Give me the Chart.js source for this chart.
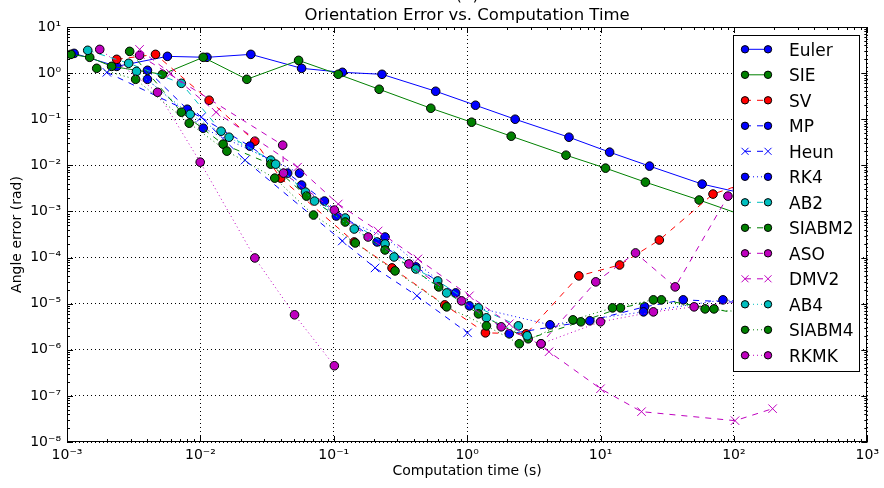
<!DOCTYPE html>
<html>
<head>
<meta charset="utf-8">
<script src="https://cdn.jsdelivr.net/npm/chart.js@4.4.1/dist/chart.umd.min.js"></script>
<style>
  html, body { margin: 0; padding: 0; background: #fff; }
  canvas { display: block; }
</style>
</head>
<body>
<canvas id="errChart" width="884" height="488"></canvas>
<script>
// computation time (s) / angle error (rad) for each integrator
const eulerT    = [1.13e-3, 2.36e-3, 5.66e-3, 0.0112, 0.0239, 0.0574, 0.116, 0.230, 0.581, 1.155, 2.29, 5.80, 11.7, 23.3, 57.8, 115];
const eulerErr  = [2.68, 1.40, 2.31, 2.20, 2.55, 1.27, 1.04, 0.942, 0.404, 0.201, 0.100, 0.0407, 0.0193, 0.00962, 0.00392, 0.0025];

const sieT      = [1.07e-3, 1.48e-3, 2.16e-3, 5.19e-3, 0.0105, 0.0223, 0.0545, 0.108, 0.219, 0.534, 1.08, 2.14, 5.51, 10.9, 21.7, 54.9, 112];
const sieErr    = [2.55, 2.20, 1.40, 0.942, 2.20, 0.734, 1.89, 0.942, 0.446, 0.173, 0.0861, 0.0428, 0.0166, 0.00869, 0.00432, 0.00177, 8.6e-4];

const svT       = [2.36e-3, 4.61e-3, 0.01163, 0.0256, 0.040, 0.1424, 0.2734, 0.679, 1.371, 2.77, 6.88, 13.9, 27.6, 69.7, 158];
const svErr     = [1.99, 2.55, 0.258, 0.0334, 5.28e-3, 2.18e-4, 5.96e-5, 9.4e-6, 2.33e-6, 2.22e-6, 4.0e-5, 6.9e-5, 2.4e-4, 2.38e-3, 5.3e-3];

const mpT       = [4.01e-3, 7.97e-3, 0.0235, 0.0451, 0.0851, 0.2113, 0.4125, 0.82, 2.07, 8.31, 21.4, 41.7, 126];
const mpErr     = [1.15, 0.1646, 0.0261, 6.78e-3, 1.68e-3, 2.18e-4, 6.27e-5, 1.71e-5, 2.22e-6, 4.25e-6, 8.53e-6, 1.21e-5, 1.05e-5];

const heunT     = [1.99e-3, 0.01014, 0.0216, 0.1159, 0.204, 0.42, 1.007];
const heunErr   = [1.04, 0.1105, 0.01296, 2.29e-4, 5.96e-5, 1.48e-5, 2.33e-6];

const rk4T      = [4.01e-3, 0.0105, 0.0554, 0.0574, 0.1046, 0.2424, 1.04, 4.18, 21.0, 82.8, 130];
const rk4Err    = [0.734, 0.0638, 6.78e-3, 3.73e-3, 7.95e-4, 2.79e-4, 8.96e-6, 3.48e-6, 6.64e-6, 1.21e-5, 1.1e-5];

const ab2T      = [1.43e-3, 2.9e-3, 7.2e-3, 0.0143, 0.0337, 0.0614, 0.122, 0.2424, 0.4125, 0.602, 1.216, 2.42];
const ab2Err    = [3.12, 1.63, 0.601, 0.055, 0.01296, 2.63e-3, 7.2e-4, 1.97e-4, 5.66e-5, 3.11e-5, 8.11e-6, 3.3e-6];

const siabm2T   = [2.95e-3, 7.2e-3, 0.0148, 0.0337, 0.0625, 0.122, 0.2424, 0.612, 1.216, 2.87, 7.12, 14.1, 28.6, 70.9, 126];
const siabm2Err = [2.96, 0.1418, 0.0288, 0.0106, 2.15e-3, 5.9e-4, 1.46e-4, 2.31e-5, 6.01e-6, 1.73e-6, 4.04e-6, 8.11e-6, 1.21e-5, 7.7e-6, 5.6e-6];

const asoT      = [3.5e-3, 0.0414, 0.042, 0.101, 0.181, 0.366, 0.908, 1.80, 3.58, 9.21, 18.3, 36.3, 90.2, 110];
const asoErr    = [2.43, 0.0274, 6.78e-3, 1.07e-3, 2.79e-4, 7.28e-5, 1.15e-5, 3.15e-6, 1.35e-6, 2.97e-5, 1.26e-4, 2.31e-5, 2.15e-3, 5.0e-3];

const dmv2T     = [3.5e-3, 5.96e-3, 0.01312, 0.0535, 0.108, 0.215, 0.427, 1.04, 2.07, 4.11, 10.0, 20.3, 102, 195];
const dmv2Err   = [3.27, 0.99, 0.1418, 9.14e-3, 1.45e-3, 3.77e-4, 9.33e-5, 1.48e-5, 3.66e-6, 9.06e-7, 1.43e-7, 4.55e-8, 2.9e-8, 5.28e-8];

const ab4T      = [3.32e-3, 8.39e-3, 0.0164, 0.0367, 0.0717, 0.1424, 0.283, 0.702, 1.395, 2.82];
const ab4Err    = [1.09, 0.128, 0.0407, 0.0106, 1.68e-3, 4.16e-4, 1.03e-4, 1.71e-5, 4.93e-6, 2.01e-6];

const siabm4T   = [1.67e-3, 3.27e-3, 8.25e-3, 0.0158, 0.0361, 0.0705, 0.145, 0.288, 0.702, 1.395, 2.46, 6.21, 12.3, 24.9, 60.8, 126];
const siabm4Err = [1.27, 0.734, 0.0819, 0.0203, 5.28e-3, 8.36e-4, 2.07e-4, 5.13e-5, 8.53e-6, 3.3e-6, 1.35e-6, 4.46e-6, 8.11e-6, 1.21e-5, 7.7e-6, 6.5e-6];

const rkmkT     = [1.76e-3, 4.77e-3, 9.97e-3, 0.0256, 0.0508, 0.101];
const rkmkErr   = [3.27, 0.384, 0.01172, 9.8e-5, 5.73e-6, 4.5e-7];

// unlabelled magenta dotted run along the flat part (not in the legend)
const flatT     = [3.58, 10.0, 24.9, 50.3, 110];
const flatErr   = [1.35e-6, 4.04e-6, 6.64e-6, 8.53e-6, 1.1e-5];

const timeTicks = [1e-3, 1e-2, 1e-1, 1e0, 1e1, 1e2, 1e3];
const errTicks  = [1e-8, 1e-7, 1e-6, 1e-5, 1e-4, 1e-3, 1e-2, 1e-1, 1e0, 1e1];

const BLUE = '#0000ff', GREEN = '#008000', RED = '#ff0000', CYAN = '#00bfbf', MAGENTA = '#bf00bf';
const SOLID = [], DASHED = [6, 6], DOTTED = [1, 3];
const FONT = 'DejaVu Sans';

const series = [
  ['Euler',  eulerT,  eulerErr,  BLUE,    SOLID,  'circle'],
  ['SIE',    sieT,    sieErr,    GREEN,   SOLID,  'circle'],
  ['SV',     svT,     svErr,     RED,     DASHED, 'circle'],
  ['MP',     mpT,     mpErr,     BLUE,    DASHED, 'circle'],
  ['Heun',   heunT,   heunErr,   BLUE,    DASHED, 'crossRot'],
  ['RK4',    rk4T,    rk4Err,    BLUE,    DOTTED, 'circle'],
  ['AB2',    ab2T,    ab2Err,    CYAN,    DASHED, 'circle'],
  ['SIABM2', siabm2T, siabm2Err, GREEN,   DASHED, 'circle'],
  ['ASO',    asoT,    asoErr,    MAGENTA, DASHED, 'circle'],
  ['DMV2',   dmv2T,   dmv2Err,   MAGENTA, DASHED, 'crossRot'],
  ['AB4',    ab4T,    ab4Err,    CYAN,    DOTTED, 'circle'],
  ['SIABM4', siabm4T, siabm4Err, GREEN,   DOTTED, 'circle'],
  ['RKMK',   rkmkT,   rkmkErr,   MAGENTA, DOTTED, 'circle'],
  ['',       flatT,   flatErr,   MAGENTA, DOTTED, 'circle'],
];

const datasets = series.map(([label, t, err, color, dash, marker], i) => ({
  label: label,
  data: t.map((x, k) => ({ x: x, y: err[k] })),
  showLine: true,
  borderColor: color,
  borderWidth: 1,
  borderDash: dash,
  pointStyle: marker,
  pointRadius: marker === 'crossRot' ? 6 : 4.3,
  pointBorderWidth: 1,
  pointBorderColor: marker === 'crossRot' ? color : '#000',
  pointBackgroundColor: color,
  order: series.length - i   // later series on top, like the original
}));

const SUP = { '-': '⁻', '0': '⁰', '1': '¹', '2': '²', '3': '³', '4': '⁴', '5': '⁵', '6': '⁶', '7': '⁷', '8': '⁸', '9': '⁹' };
const powLabel = v => '10' + String(Math.round(Math.log10(v))).split('').map(c => SUP[c]).join('');

// box around the axes with inward major/minor ticks on all four sides
const frameTicks = {
  id: 'frameTicks',
  afterDatasetsDraw(chart) {
    const { ctx, chartArea: a, scales: { x, y } } = chart;
    ctx.save();
    ctx.strokeStyle = '#000';
    ctx.lineWidth = 1;
    ctx.setLineDash([]);
    ctx.beginPath();
    for (let e = -3; e <= 3; e++) {
      for (let m = 1; m < 10; m++) {
        const v = m * Math.pow(10, e);
        if (v > 1e3 * 1.0001) break;
        const px = Math.round(x.getPixelForValue(v)) + 0.5;
        const len = m === 1 ? 6 : 3;
        ctx.moveTo(px, a.bottom); ctx.lineTo(px, a.bottom - len);
        ctx.moveTo(px, a.top); ctx.lineTo(px, a.top + len);
      }
    }
    for (let e = -8; e <= 1; e++) {
      for (let m = 1; m < 10; m++) {
        const v = m * Math.pow(10, e);
        if (v > 10 * 1.0001) break;
        const py = Math.round(y.getPixelForValue(v)) + 0.5;
        const len = m === 1 ? 6 : 3;
        ctx.moveTo(a.left, py); ctx.lineTo(a.left + len, py);
        ctx.moveTo(a.right, py); ctx.lineTo(a.right - len, py);
      }
    }
    ctx.stroke();
    ctx.strokeRect(Math.round(a.left) + 0.5, Math.round(a.top) + 0.5, Math.round(a.width) - 1, Math.round(a.height) - 1);
    ctx.restore();
  }
};

const legendBox = {
  id: 'legendBox',
  afterDraw(chart) {
    const { ctx, chartArea: a } = chart;
    const items = chart.data.datasets.filter(d => d.label);
    const w = 126, rowH = 25.5;
    const h = items.length * rowH + 4.5;
    const left = Math.round(a.right - 8 - w), top = Math.round(a.top + 8);
    ctx.save();
    ctx.fillStyle = '#fff';
    ctx.fillRect(left, top, w, h);
    ctx.strokeStyle = '#000';
    ctx.lineWidth = 1;
    ctx.strokeRect(left + 0.5, top + 0.5, w, h);
    items.forEach((d, i) => {
      const yy = top + 14.3 + i * rowH;
      const x0 = left + 12, x1 = left + 35;
      ctx.strokeStyle = d.borderColor;
      ctx.setLineDash(d.borderDash);
      ctx.beginPath(); ctx.moveTo(x0, yy); ctx.lineTo(x1, yy); ctx.stroke();
      ctx.setLineDash([]);
      [x0, x1].forEach(px => {
        if (d.pointStyle === 'crossRot') {
          ctx.strokeStyle = d.borderColor;
          ctx.beginPath();
          ctx.moveTo(px - 3.5, yy - 3.5); ctx.lineTo(px + 3.5, yy + 3.5);
          ctx.moveTo(px - 3.5, yy + 3.5); ctx.lineTo(px + 3.5, yy - 3.5);
          ctx.stroke();
        } else {
          ctx.fillStyle = d.pointBackgroundColor;
          ctx.strokeStyle = '#000';
          ctx.beginPath(); ctx.arc(px, yy, 3.7, 0, Math.PI * 2); ctx.fill(); ctx.stroke();
        }
      });
      ctx.fillStyle = '#000';
      ctx.font = '17px "' + FONT + '"';
      ctx.textAlign = 'left';
      ctx.textBaseline = 'alphabetic';
      ctx.fillText(d.label, left + 56, yy + 6.3);
    });
    ctx.restore();
  }
};

const topTitle = {
  id: 'topTitle',
  afterDraw(chart) {
    const { ctx, chartArea: a } = chart;
    const cx = (a.left + a.right) / 2;
    ctx.save();
    ctx.fillStyle = '#000';
    ctx.font = '16.5px "' + FONT + '"';
    ctx.textAlign = 'center';
    ctx.textBaseline = 'alphabetic';
    ctx.fillText('(b)', cx, -0.5);   // only the tail of the panel tag shows, as in the source
    ctx.fillText('Orientation Error vs. Computation Time', cx, 20);
    ctx.restore();
  }
};

new Chart(document.getElementById('errChart'), {
  type: 'scatter',
  data: { datasets: datasets },
  options: {
    responsive: false,
    devicePixelRatio: 1,
    animation: false,
    layout: { padding: { top: 27, right: 12, left: 0, bottom: 0 } },
    plugins: {
      legend: { display: false },
      title: { display: false },
      tooltip: { enabled: false }
    },
    scales: {
      x: {
        type: 'logarithmic',
        min: 1e-3,
        max: 1e3,
        afterBuildTicks: s => { s.ticks = timeTicks.map(v => ({ value: v })); },
        afterFit: s => { s.height = 46; },
        ticks: {
          callback: v => powLabel(v),
          autoSkip: false,
          maxRotation: 0,
          padding: 5,
          color: '#000',
          font: { family: FONT, size: 14 }
        },
        grid: { color: '#000', lineWidth: 1, drawTicks: false },
        border: { display: false, dash: [1, 3] },
        title: {
          display: true,
          text: 'Computation time (s)',
          color: '#000',
          font: { family: FONT, size: 14 },
          padding: { top: 0, bottom: 8 }
        }
      },
      y: {
        type: 'logarithmic',
        min: 1e-8,
        max: 10,
        afterBuildTicks: s => { s.ticks = errTicks.map(v => ({ value: v })); },
        afterFit: s => { s.width = 67; },
        ticks: {
          callback: v => powLabel(v),
          autoSkip: false,
          padding: 6,
          color: '#000',
          font: { family: FONT, size: 14 }
        },
        grid: { color: '#000', lineWidth: 1, drawTicks: false },
        border: { display: false, dash: [1, 3] },
        title: {
          display: true,
          text: 'Angle error (rad)',
          color: '#000',
          font: { family: FONT, size: 14 },
          padding: { top: 9, bottom: 0 }
        }
      }
    }
  },
  plugins: [frameTicks, legendBox, topTitle]
});
</script>
</body>
</html>
